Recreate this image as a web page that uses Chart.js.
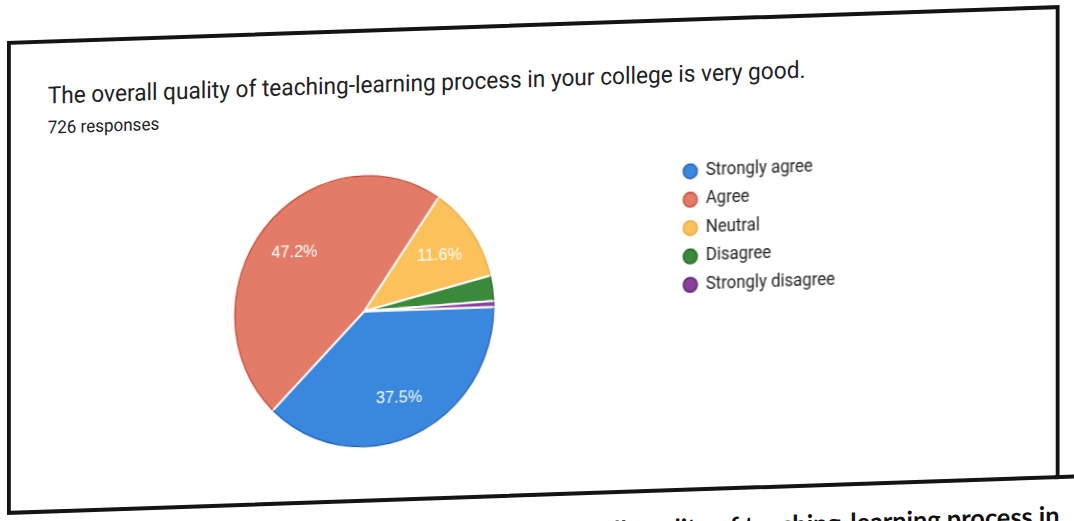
<!DOCTYPE html>
<html>
<head>
<meta charset="utf-8">
<script src="https://cdn.jsdelivr.net/npm/chart.js@4.4.1/dist/chart.umd.min.js"></script>
<style>
  html, body { margin: 0; padding: 0; background: #ffffff; }
  body { width: 1074px; height: 521px; overflow: hidden; position: relative; }
  /* the printed sheet sits slightly sheared on the page */
  #sheet {
    position: absolute; left: 7.3px; top: 40.7px;
    width: 1140px; height: 560px;
    transform-origin: 0 0;
    transform: matrix(0.956, -0.0327, 0, 1, 0, 0);
  }
  #frame {
    position: absolute; left: 0; top: 0; width: 1101px; height: 474px;
    box-sizing: border-box; border: 4.5px solid #141414;
  }
  #rule {
    position: absolute; left: 1096px; top: 469.5px; width: 60px; height: 4.5px; background: #141414;
  }
  .txt { position: absolute; white-space: nowrap; line-height: normal; }
  #title { left: 42.6px; top: 41.5px; font: 23.7px Roboto, sans-serif; color: #202124; }
  #sub { left: 42.6px; top: 77px; font: 17.8px Roboto, sans-serif; color: #202124; }
  #caption { right: 39px; top: 494px; font: bold 26.5px Lato, sans-serif; color: #111; }
  #chart { position: absolute; left: 51px; top: 134px; }
</style>
</head>
<body>
<div id="sheet">
  <div id="frame"></div>
  <div id="rule"></div>
  <div class="txt" id="title">The overall quality of teaching-learning process in your college is very good.</div>
  <div class="txt" id="sub">726 responses</div>
  <canvas id="chart" height="297"></canvas>
  <div class="txt" id="caption">Figure: The overall quality of teaching-learning process in</div>
</div>
<script>
// answer options and response counts (726 responses)
const categories = ['Strongly agree', 'Agree', 'Neutral', 'Disagree', 'Strongly disagree'];
const counts = [272, 343, 84, 22, 5];
const sliceColors = ['#3a87de', '#e27c68', '#fbc25c', '#3b8a3c', '#8a3f9c'];
const rimColors = ['#1d5cb3', '#c4452d', '#e9a233', '#22601f', '#51205f'];

const legendFont = { family: 'Roboto', size: 17.5, lineHeight: 1 };
const legendBox = 15;
const legendPad = 10.9;
const pieArea = 645; // width of the plotting area left of the legend

// size the canvas so the legend column fits fully to the right of the pie area
const canvas = document.getElementById('chart');
const measure = canvas.getContext('2d');
measure.font = legendFont.size + 'px ' + legendFont.family;
const widest = Math.max(...categories.map(c => measure.measureText(c).width));
canvas.width = Math.round(pieArea + legendPad + legendBox + legendFont.size / 2 + widest + 10);

// white percentage text inside the larger slices
const sliceLabels = {
  id: 'sliceLabels',
  afterDatasetsDraw(chart) {
    const ctx = chart.ctx;
    const meta = chart.getDatasetMeta(0);
    const data = chart.data.datasets[0].data;
    const total = data.reduce((a, b) => a + b, 0);
    ctx.save();
    // darker outer rim on each slice
    meta.data.forEach((arc, i) => {
      ctx.beginPath();
      ctx.arc(arc.x, arc.y, arc.outerRadius - 0.6, arc.startAngle + 0.004, arc.endAngle - 0.004);
      ctx.strokeStyle = rimColors[i];
      ctx.lineWidth = 1.3;
      ctx.stroke();
    });
    ctx.font = '17px Arial, "Liberation Sans", sans-serif';
    ctx.fillStyle = '#ffffff';
    ctx.textAlign = 'center';
    ctx.textBaseline = 'middle';
    meta.data.forEach((arc, i) => {
      const share = data[i] / total;
      if (share < 0.05) return;
      const mid = (arc.startAngle + arc.endAngle) / 2;
      const r = arc.outerRadius * 0.7;
      ctx.fillText((share * 100).toFixed(1) + '%', arc.x + Math.cos(mid) * r, arc.y + Math.sin(mid) * r);
    });
    ctx.restore();
  }
};

const baseLabels = (Chart.overrides.pie || Chart.overrides.doughnut).plugins.legend.labels.generateLabels;

new Chart(canvas, {
  type: 'pie',
  data: {
    labels: categories,
    datasets: [{
      data: counts,
      backgroundColor: sliceColors,
      borderColor: '#ffffff',
      borderWidth: 2,
      radius: 136
    }]
  },
  options: {
    responsive: false,
    animation: false,
    rotation: 90,
    layout: { padding: 0 },
    plugins: {
      tooltip: { enabled: false },
      legend: {
        position: 'right',
        align: 'start',
        labels: {
          usePointStyle: true,
          pointStyle: 'circle',
          boxWidth: legendBox,
          boxHeight: 10.3,
          padding: legendPad,
          color: '#222222',
          font: legendFont,
          generateLabels(chart) {
            return baseLabels(chart).map((item, i) => Object.assign(item, {
              strokeStyle: rimColors[i],
              lineWidth: 1.4
            }));
          }
        }
      }
    }
  },
  plugins: [sliceLabels]
});
</script>
</body>
</html>
